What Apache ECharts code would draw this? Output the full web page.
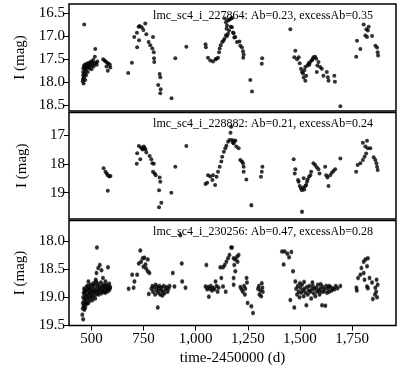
<!DOCTYPE html>
<html style="height: 100%">
<head>
    <meta charset="utf-8">
    <title>lmc_sc4 light curves</title>
</head>
<body style="height: 100%; margin: 0;">
    <div id="container" style="width: 400px; height: 375px;"></div>
    <script src="https://cdn.jsdelivr.net/npm/echarts@6/dist/echarts.min.js"></script>
    <script type="text/javascript">
        // x ticks and y ticks of each panel
        var timeTicks = [500, 750, 1000, 1250, 1500, 1750];
        var magTicks1 = [16.5, 17.0, 17.5, 18.0, 18.5];
        var magTicks2 = [17, 18, 19];
        var magTicks3 = [18.0, 18.5, 19.0, 19.5];

        var titles = [
            'lmc_sc4_i_227864: Ab=0.23, excessAb=0.35',
            'lmc_sc4_i_228882: Ab=0.21, excessAb=0.24',
            'lmc_sc4_i_230256: Ab=0.47, excessAb=0.28'
        ];

        // [time-2450000, I mag]
        var star227864 = [
            [465,16.75],[458,17.98],[459,17.93],[460,17.85],[460,17.78],[461,17.7],[462,18.03],[463,17.65],
            [464,17.9],[466,17.82],[467,17.72],[468,17.62],[470,17.95],[471,17.68],[472,17.76],[474,17.85],
            [476,17.6],[478,17.7],[480,17.66],[482,17.78],[485,17.62],[487,17.58],[490,17.7],[492,17.66],
            [495,17.6],[498,17.55],[500,17.72],[503,17.63],[505,17.57],[508,17.52],[510,17.66],[513,17.6],
            [516,17.45],[518,17.28],[522,17.58],[525,17.62],[528,17.55],
            [556,17.5],[562,17.53],[568,17.55],[575,17.58],[582,17.6],[572,17.66],[578,17.75],[588,17.62],[590,17.68],
            [676,17.8],[694,17.58],[705,17.02],[718,16.93],[719,17.24],[726,16.8],[728,17.09],[731,16.78],
            [741,16.81],[749,16.87],[758,16.73],[763,16.96],[774,17.13],[782,17.2],[792,17.27],[795,17.02],
            [799,17.35],[800,17.48],[801,17.56],[820,18.06],[827,17.82],[830,17.89],[832,18.15],[830,18.24],
            [884,18.35],[902,17.48],[955,17.23],
            [1047,17.18],[1049,17.24],[1059,17.47],[1070,17.53],[1083,17.55],[1095,17.5],[1100,17.49],[1107,17.47],
            [1112,17.35],[1115,17.27],[1120,17.2],[1127,17.13],[1133,17.1],[1138,17.06],[1145,16.98],[1150,17.0],
            [1155,16.95],[1160,16.88],[1140,16.62],[1145,16.7],[1150,16.77],[1148,16.84],[1155,16.66],[1162,16.64],
            [1168,16.8],[1170,16.62],[1174,16.61],[1174,16.81],[1179,16.92],[1182,16.94],[1185,17.03],[1190,17.02],
            [1198,17.13],[1210,17.12],[1214,17.21],[1222,17.25],[1227,17.33],[1230,17.4],[1228,17.47],
            [1262,17.95],[1270,18.2],[1317,17.6],[1319,17.48],
            [1454,16.85],[1473,17.46],[1478,17.32],[1486,17.5],[1494,17.46],[1499,17.59],[1505,17.71],[1510,17.78],
            [1515,17.81],[1518,17.9],[1521,17.74],[1526,17.67],[1526,17.97],[1530,17.86],[1536,17.64],[1542,17.59],
            [1545,17.62],[1549,17.56],[1557,17.53],[1560,17.5],[1565,17.46],[1573,17.45],[1578,17.49],[1581,17.78],
            [1584,17.64],[1589,17.56],[1597,17.67],[1605,17.71],[1613,17.86],[1629,17.78],[1634,17.89],[1637,17.97],
            [1665,17.86],[1668,17.99],[1694,18.52],
            [1770,17.45],[1774,17.1],[1790,17.28],[1806,16.75],[1814,16.99],[1819,16.85],[1822,17.02],[1826,16.88],
            [1830,16.8],[1846,17.0],[1862,17.21],[1870,17.25],[1873,17.35],[1875,17.42]
        ];

        var star228882 = [
            [558,18.15],[567,18.27],[573,18.33],[578,18.39],[586,18.44],[591,18.42],[578,18.93],
            [717,18.0],[719,17.63],[727,17.38],[734,17.84],[738,17.43],[742,17.47],[746,17.5],[751,17.4],
            [755,17.45],[759,17.5],[763,17.61],[779,17.73],[787,17.84],[792,17.98],[799,18.0],[795,18.27],
            [803,18.33],[808,18.39],[827,18.47],[830,18.62],[824,18.91],[835,19.35],[824,19.5],[883,19.0],
            [902,18.1],[955,17.38],
            [1047,18.7],[1055,18.65],[1059,18.39],[1070,18.44],[1080,18.56],[1083,18.39],[1093,18.73],[1100,18.45],
            [1107,18.27],[1115,18.1],[1123,17.92],[1127,17.75],[1135,17.58],[1142,17.46],[1147,17.37],[1155,17.23],
            [1162,17.17],[1167,16.92],[1170,16.71],[1174,17.17],[1178,17.25],[1182,17.29],[1186,17.2],[1190,17.2],
            [1195,17.4],[1206,17.46],[1214,17.87],[1222,17.92],[1227,17.98],[1230,18.1],[1230,18.27],[1243,18.54],
            [1267,19.43],[1313,18.45],[1317,18.27],[1320,18.1],
            [1470,17.84],[1475,18.33],[1478,18.19],[1491,18.56],[1494,18.62],[1499,18.77],[1505,18.85],[1510,18.91],
            [1515,18.82],[1518,18.5],[1521,18.89],[1526,18.77],[1530,18.73],[1534,18.62],[1537,18.54],[1544,18.45],
            [1550,18.39],[1554,18.27],[1510,19.66],[1565,17.98],[1573,18.04],[1581,18.12],[1589,18.19],[1594,18.33],
            [1621,18.1],[1626,18.39],[1632,18.47],[1637,18.77],[1645,18.39],[1653,18.31],[1661,18.25],[1669,18.19],
            [1694,17.81],
            [1770,18.27],[1777,18.04],[1790,17.98],[1802,17.87],[1810,17.75],[1818,17.64],[1802,17.27],[1822,17.2],
            [1814,17.4],[1826,17.46],[1838,17.46],[1854,17.77],[1862,17.87],[1867,17.98],[1870,18.1],[1873,18.21]
        ];

        var star230256 = [
            [456,19.31],[460,19.39],[458,19.2],[458,19.1],[460,19.0],[462,18.92],[462,19.15],[464,18.85],
            [465,19.05],[466,19.22],[467,18.95],[468,19.12],[469,18.88],[470,19.02],[470,19.18],
            [472,18.9],[473,19.08],[475,18.82],[476,18.98],[477,19.12],[479,18.88],[480,19.04],[482,18.79],
            [483,18.95],[485,19.1],[486,18.86],[488,19.0],[490,18.83],[491,18.93],[493,19.06],[495,18.78],
            [496,18.9],[498,19.0],[500,18.86],
            [502,18.96],[504,18.8],[505,19.05],[507,18.9],[509,18.75],[510,18.98],[512,18.85],[514,18.92],
            [516,18.78],[518,19.02],[520,18.88],[522,18.72],[524,18.57],[524,18.95],[526,18.12],[527,18.82],
            [529,18.9],[530,18.76],[532,18.48],[533,18.86],[535,18.95],[537,18.8],[540,18.43],[540,18.9],
            [543,18.85],[545,18.74],[548,18.52],[548,18.93],[550,18.82],[553,18.88],[555,18.66],[556,18.78],
            [558,18.9],[560,18.84],[563,18.8],[565,18.92],[567,18.72],[569,18.86],[571,18.78],[574,18.9],
            [576,18.84],[579,18.47],[580,18.8],[583,18.88],[585,18.76],[588,18.85],[590,18.82],[520,18.69],[485,18.72],
            [678,18.85],[695,18.6],[702,18.83],[706,18.72],[719,18.6],[727,18.4],[734,18.17],[738,18.37],
            [746,18.31],[749,18.46],[754,18.3],[759,18.42],[762,18.49],[770,18.33],[770,18.54],[775,18.94],[778,18.57],
            [787,18.85],[792,18.8],[795,18.9],[800,18.83],[805,18.95],[808,18.78],[812,18.88],[815,18.82],
            [818,19.18],[820,18.92],[823,18.85],[826,18.8],[830,18.95],[833,18.88],[836,18.83],[840,18.97],
            [843,18.9],[846,18.8],[850,18.93],[855,18.86],[860,18.82],[865,18.9],[870,18.85],[875,18.8],
            [890,18.57],[898,18.81],[926,17.9],[933,18.4],[935,18.72],[951,18.83],
            [1047,18.81],[1051,18.43],[1055,18.86],[1060,18.82],[1063,18.99],[1068,18.85],[1072,18.8],[1078,18.88],
            [1083,18.83],[1090,18.86],[1095,18.72],[1100,18.8],[1105,18.9],[1110,18.83],[1118,18.47],[1123,18.66],
            [1131,18.47],[1131,18.81],[1139,18.43],[1144,18.9],[1147,18.37],[1155,18.31],[1162,18.25],[1170,18.12],
            [1174,18.12],[1182,18.31],[1190,18.33],[1198,18.28],[1201,18.37],[1185,18.43],[1190,18.54],[1182,18.66],
            [1182,18.78],[1206,18.25],
            [1214,18.82],[1220,18.86],[1226,18.9],[1232,18.8],[1236,18.95],[1238,18.85],[1246,18.74],[1244,18.66],
            [1249,19.1],[1267,19.16],[1275,19.28],[1299,18.85],[1303,18.8],[1306,18.95],[1310,18.88],[1314,18.98],
            [1317,18.75],[1320,18.83],[1322,18.9],
            [1414,18.19],[1422,18.42],[1427,18.19],[1440,18.23],[1448,18.29],[1454,19.05],[1459,18.2],[1467,18.54],
            [1473,19.18],[1478,18.72],
            [1482,18.85],[1486,18.95],[1490,18.8],[1494,18.9],[1498,19.0],[1502,18.83],[1506,18.92],[1510,18.78],
            [1514,18.88],[1518,18.98],[1522,18.85],[1526,18.92],[1531,19.14],[1534,18.82],[1538,18.95],[1542,18.88],
            [1546,18.8],[1550,18.9],[1554,19.02],[1558,18.86],[1562,18.8],[1566,18.93],[1570,18.85],[1574,18.98],
            [1578,18.83],[1582,18.9],[1586,18.78],[1590,18.88],[1594,18.95],[1598,18.84],[1602,18.9],[1606,19.14],
            [1610,18.82],[1614,18.9],[1618,18.86],[1622,19.15],[1626,18.8],[1630,18.92],[1634,18.85],[1640,18.9],
            [1646,18.82],[1652,18.88],[1658,18.84],[1665,18.86],[1672,18.8],[1680,18.84],[1694,18.8],[1500,18.75],
            [1520,18.73],[1560,18.74],[1600,18.77],[1640,18.8],
            [1771,18.83],[1773,18.88],[1779,18.66],[1790,18.6],[1795,18.48],[1806,18.37],[1814,18.33],[1826,18.31],
            [1822,18.45],[1806,18.57],[1810,18.69],[1822,18.81],[1826,18.84],[1834,18.66],[1846,18.74],[1850,19.03],
            [1862,18.83],[1866,18.9],[1870,19.0],[1873,18.78],[1868,18.69],[1860,18.95]
        ];

        // points of star228882 that carry a visible error bar
        var star228882Err = [[1267,19.43],[1510,19.66]];

        var FONT = 'Liberation Serif';
        var dom = document.getElementById("container");
        var myChart = echarts.init(dom);

        var grids = [
            { left: 69, right: 4, top: 4, height: 107 },
            { left: 69, right: 4, top: 112.5, height: 106.5 },
            { left: 69, right: 4, top: 220.5, height: 105 }
        ];
        grids.forEach(function (g) {
            g.show = true;
            g.borderColor = '#000';
            g.borderWidth = 1.5;
            g.backgroundColor = '#fff';
        });

        function xAxis(i) {
            var last = i === 2;
            return {
                type: 'value', gridIndex: i, min: 392, max: 1961,
                name: last ? 'time-2450000 (d)' : '',
                nameLocation: 'middle', nameGap: 25,
                nameTextStyle: { fontFamily: FONT, fontSize: 15, color: '#000' },
                axisLine: { show: false },
                splitLine: { show: false },
                axisTick: { show: last, length: 5, lineStyle: { color: '#000' }, customValues: timeTicks },
                axisLabel: {
                    show: last, fontFamily: FONT, fontSize: 15, color: '#000', margin: 6,
                    customValues: timeTicks,
                    formatter: function (v) { return v.toLocaleString('en-US'); }
                }
            };
        }

        function yAxis(i, min, max, ticks, dec) {
            return {
                type: 'value', gridIndex: i, min: min, max: max, inverse: true,
                name: 'I (mag)', nameLocation: 'middle', nameGap: 39,
                nameTextStyle: { fontFamily: FONT, fontSize: 15, color: '#000' },
                axisLine: { show: false },
                splitLine: { show: false },
                axisTick: { show: true, length: 5, lineStyle: { color: '#000' }, customValues: ticks },
                axisLabel: {
                    fontFamily: FONT, fontSize: 15, color: '#000', margin: 4,
                    customValues: ticks,
                    formatter: function (v) { return v.toFixed(dec); }
                }
            };
        }

        function errBar(half) {
            return function (params, api) {
                var x = api.value(0), y = api.value(1);
                var a = api.coord([x, y - half]);
                var b = api.coord([x, y + half]);
                var st = { stroke: '#b8b8b8', lineWidth: 1 };
                return {
                    type: 'group',
                    children: [
                        { type: 'line', shape: { x1: a[0], y1: a[1], x2: b[0], y2: b[1] }, style: st },
                        { type: 'line', shape: { x1: a[0] - 1.5, y1: a[1], x2: a[0] + 1.5, y2: a[1] }, style: st },
                        { type: 'line', shape: { x1: b[0] - 1.5, y1: b[1], x2: b[0] + 1.5, y2: b[1] }, style: st }
                    ]
                };
            };
        }

        function dots(i, data) {
            return {
                type: 'scatter', xAxisIndex: i, yAxisIndex: i, data: data,
                symbol: 'circle', symbolSize: 4,
                itemStyle: { color: '#000' }, silent: true, z: 3
            };
        }

        var option = {
            animation: false,
            backgroundColor: '#fff',
            textStyle: { fontFamily: FONT },
            title: titles.map(function (t, i) {
                return {
                    text: t, left: 258, textAlign: 'center', top: [5, 113, 221][i],
                    textStyle: { fontFamily: FONT, fontSize: 12, fontWeight: 'normal', color: '#000' }
                };
            }),
            grid: grids,
            xAxis: [xAxis(0), xAxis(1), xAxis(2)],
            yAxis: [
                yAxis(0, 16.305, 18.624, magTicks1, 1),
                yAxis(1, 16.22, 19.91, magTicks2, 0),
                yAxis(2, 17.64, 19.5, magTicks3, 1)
            ],
            series: [
                { type: 'custom', xAxisIndex: 1, yAxisIndex: 1, data: star228882Err, renderItem: errBar(0.06), silent: true, z: 2 },
                { type: 'custom', xAxisIndex: 2, yAxisIndex: 2, data: star230256, renderItem: errBar(0.035), silent: true, z: 2 },
                dots(0, star227864),
                dots(1, star228882),
                dots(2, star230256)
            ]
        };
        myChart.setOption(option);
    </script>
</body>
</html>
